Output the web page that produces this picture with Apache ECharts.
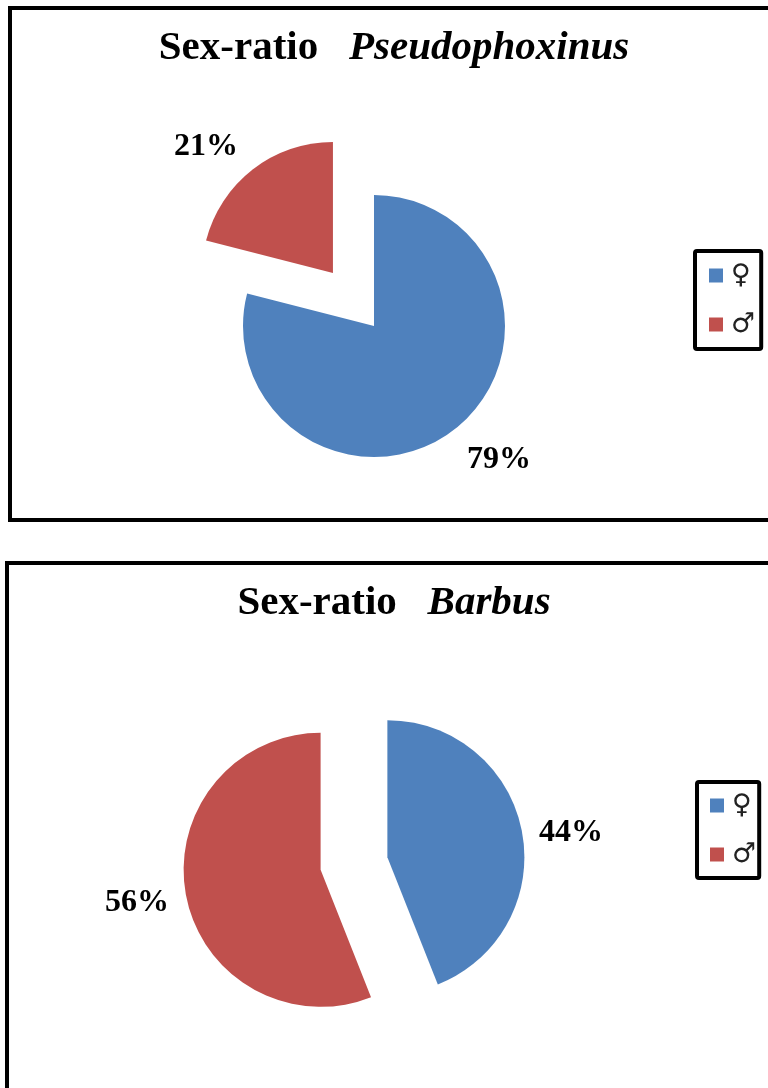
<!DOCTYPE html>
<html>
<head>
<meta charset="utf-8">
<script src="https://cdn.jsdelivr.net/npm/echarts@6/dist/echarts.min.js"></script>
<style>
  html, body { margin: 0; padding: 0; background: #fff; }
  #chart { width: 768px; height: 1088px; }
</style>
</head>
<body>
<div id="chart"></div>
<script>
// ---- data ----
const categories = ['♀', '♂'];
const pseudophoxinusValues = [79, 21];
const barbusValues = [44, 56];
const titleGenus = ['Pseudophoxinus', 'Barbus'];

// ---- styling ----
const colors = ['#4F81BD', '#C0504D'];
const serif = '"Liberation Serif", "Times New Roman", serif';

// label line geometry per slice (positions only, no data)
const topLabelGeom = [{ len: 35.5, len2: -14 }, { len: 31.7, len2: -9.7 }];
const botLabelGeom = [{ len: 10.6, len2: 1.5 }, { len: 21.3, len2: -9 }];

function makeData(values, geom, selectedIdx) {
  return values.map((v, i) => ({
    name: categories[i],
    value: v,
    selected: selectedIdx.indexOf(i) >= 0,
    itemStyle: { color: colors[i] },
    select: { itemStyle: { color: colors[i], borderWidth: 0 } },
    labelLine: {
      show: true,
      length: geom[i].len,
      length2: geom[i].len2,
      lineStyle: { opacity: 0, width: 0 }
    }
  }));
}

const labelStyle = {
  show: true,
  position: 'outside',
  formatter: '{c}%',
  fontFamily: serif,
  fontWeight: 'bold',
  fontSize: 32,
  color: '#000',
  distanceToLabelLine: 5
};

function titleText(g) {
  return '{a|Sex-ratio}{s|   }{b|' + g + '}';
}
const titleRich = {
  a: { fontFamily: serif, fontWeight: 'bold', fontSize: 41, color: '#000' },
  s: { fontFamily: serif, fontWeight: 'bold', fontSize: 41, color: '#000' },
  b: { fontFamily: serif, fontWeight: 'bold', fontStyle: 'italic', fontSize: 41, color: '#000' }
};

const legendBase = {
  orient: 'vertical',
  data: categories,
  icon: 'rect',
  itemWidth: 14,
  itemHeight: 14,
  itemGap: 22,
  borderColor: '#000',
  borderWidth: 4,
  borderRadius: 2,
  backgroundColor: '#fff',
  selectedMode: false,
  textStyle: { fontFamily: '"DejaVu Sans", sans-serif', fontSize: 27, lineHeight: 27, color: '#222', padding: [0, 0, 0, 3] }
};

const chart = echarts.init(document.getElementById('chart'), null, { renderer: 'canvas' });
chart.setOption({
  animation: false,
  backgroundColor: '#fff',
  graphic: [
    { type: 'rect', silent: true, z: -10, shape: { x: 10, y: 8, width: 800, height: 512 },
      style: { fill: 'none', stroke: '#000', lineWidth: 4 } },
    { type: 'rect', silent: true, z: -10, shape: { x: 7, y: 563, width: 800, height: 600 },
      style: { fill: 'none', stroke: '#000', lineWidth: 4 } }
  ],
  title: [
    { text: titleText(titleGenus[0]), left: 394, top: 28, textAlign: 'center', padding: 0,
      textStyle: { rich: titleRich } },
    { text: titleText(titleGenus[1]), left: 394, top: 583, textAlign: 'center', padding: 0,
      textStyle: { rich: titleRich } }
  ],
  legend: [
    Object.assign({}, legendBase, { left: 695, top: 251, padding: [11, 6, 11, 14] }),
    Object.assign({}, legendBase, { left: 697, top: 782, padding: [10, 3, 10, 13] })
  ],
  series: [
    {
      type: 'pie',
      center: [374, 326],
      radius: 131,
      startAngle: 90,
      clockwise: true,
      selectedMode: 'single',
      selectedOffset: 67,
      avoidLabelOverlap: false,
      emphasis: { disabled: true },
      label: labelStyle,
      labelLayout: { dy: 2 },
      data: makeData(pseudophoxinusValues, topLabelGeom, [1])
    },
    {
      type: 'pie',
      center: [354, 863.5],
      radius: 137,
      startAngle: 90,
      clockwise: true,
      selectedMode: 'multiple',
      selectedOffset: 34,
      avoidLabelOverlap: false,
      emphasis: { disabled: true },
      label: labelStyle,
      labelLayout: { dy: 3 },
      data: makeData(barbusValues, botLabelGeom, [0, 1])
    }
  ]
});
</script>
</body>
</html>
